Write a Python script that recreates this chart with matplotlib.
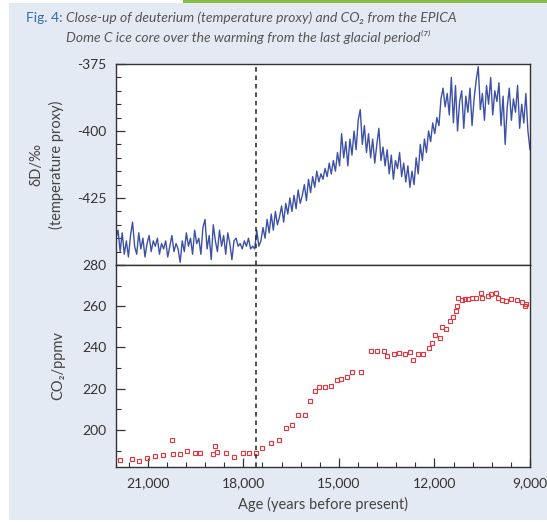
import matplotlib
matplotlib.use('Agg')
import matplotlib.pyplot as plt
from matplotlib.patches import Rectangle
from matplotlib.ticker import MultipleLocator, FuncFormatter
import numpy as np

plt.rcParams['font.family'] = ['Lato', 'DejaVu Sans']
plt.rcParams['axes.unicode_minus'] = False

# deuterium record, one value every 65 years from 22,000 to 9,000 yr BP
dd_age = np.linspace(22000, 9000, 201)
dd_val = [
    -440, -437, -445, -438, -446, -441, -447, -439, -434, -443,
    -446, -438, -444, -440, -447, -442, -439, -445, -441, -443,
    -440, -446, -442, -444, -441, -447, -443, -439, -445, -442,
    -444, -449, -441, -445, -438, -443, -440, -446, -437, -442,
    -440, -446, -436, -433, -444, -439, -448, -435, -441, -445,
    -437, -443, -439, -446, -438, -442, -448, -441, -440, -443,
    -442, -444, -441, -443, -440, -444, -443, -444, -437, -443,
    -441, -436, -440, -433, -438, -431, -437, -430, -435, -432,
    -428, -434, -427, -431, -425, -430, -424, -429, -422, -427,
    -424, -420, -426, -418, -423, -417, -421, -415, -419, -416,
    -418, -414, -417, -412, -416, -411, -415, -408, -413, -401,
    -410, -404, -413, -403, -409, -400, -407, -396, -392, -405,
    -398, -408, -401, -410, -403, -412, -405, -399, -411, -406,
    -413, -407, -416, -409, -418, -411, -414, -408, -417, -412,
    -419, -413, -421, -415, -420, -410, -416, -405, -411, -403,
    -408, -400, -404, -397, -401, -395, -398, -388, -384, -391,
    -386, -394, -380, -397, -383, -400, -389, -385, -399, -387,
    -393, -384, -398, -388, -381, -376, -392, -386, -396, -383,
    -390, -380, -394, -385, -389, -382, -398, -387, -405, -391,
    -384, -396, -388, -393, -383, -399, -390, -397, -386, -400, -407,
]

# CO2 measurements
co2_age = [21875, 21510, 21270, 21040, 20780, 20520, 20230, 20210, 20000, 19760,
           19530, 19350, 18940, 18880, 18830, 18560, 18300, 18000, 17810, 17600,
           17400, 17130, 16875, 16670, 16480, 16280, 16070, 15920, 15750, 15625,
           15440, 15260, 15050, 14920, 14740, 14580, 14320, 13980, 13800, 13590,
           13490, 13280, 13100, 12940, 12760, 12660, 12520, 12370, 12160, 12085,
           11980, 11820, 11750, 11650, 11510, 11430, 11330, 11300, 11270, 11150,
           11040, 10940, 10830, 10710, 10540, 10500, 10330, 10210, 10080, 10000,
           9875, 9740, 9585, 9400, 9250, 9145, 9115]
co2_val = [185.5, 186, 185, 186.6, 187.1, 188, 195, 188.4, 188.4, 190,
           189, 189, 188.4, 192.2, 189.5, 188.7, 187, 189, 188.7, 188.7,
           191, 193.8, 195, 200.7, 202.6, 207.4, 207.4, 213.8, 219.1, 220.7,
           221, 221.5, 224, 224.7, 225.8, 227.9, 227.9, 238.3, 238.3, 238.3,
           235.9, 237, 237.2, 237, 237.8, 233.8, 237, 237, 239.6, 242.3,
           246, 244.4, 249.8, 249, 252.7, 254.6, 257.8, 259.9, 263.8, 263.1,
           263.5, 263.5, 263.8, 264.2, 266.2, 264.2, 265.1, 265.8, 266.2, 264.2,
           263.1, 262.6, 263.5, 263.1, 261.9, 259.9, 261]

warming_start = 17600

fig = plt.figure(figsize=(5.47, 5.22), dpi=100, facecolor='white')
fig.patches.append(Rectangle((9 / 547, 2 / 522), 538 / 547, 517 / 522,
                             transform=fig.transFigure, facecolor='#e4eaf3',
                             edgecolor='none', zorder=-10))
fig.patches.append(Rectangle((183 / 547, 519 / 522), 364 / 547, 3 / 522,
                             transform=fig.transFigure, facecolor='#86bd44',
                             edgecolor='none', zorder=-9))

# title
fig.text(26 / 547, 1 - 18 / 522, 'Fig. 4:', color='#2f6fae', fontsize=10,
         va='center', ha='left')
fig.text(66 / 547, 1 - 18 / 522,
         'Close-up of deuterium (temperature proxy) and CO\u2082 from the EPICA',
         color='#555555', fontsize=10, style='italic', va='center', ha='left')
fig.text(66 / 547, 1 - 37 / 522,
         'Dome C ice core over the warming from the last glacial period\u207d\u2077\u207e',
         color='#555555', fontsize=10, style='italic', va='center', ha='left')

ax1 = fig.add_axes([116 / 547, 1 - 265 / 522, 414 / 547, 201 / 522])
ax2 = fig.add_axes([116 / 547, 1 - 467 / 522, 414 / 547, 202 / 522], sharex=ax1)

ax1.plot(dd_age, dd_val, color='#3d51a6', lw=1.0)
ax2.plot(co2_age, co2_val, 's', mfc='none', mec='#e8333c', ms=3.3, mew=0.8)

for ax in (ax1, ax2):
    ax.axvline(warming_start, color='#222222', ls=(0, (3, 2.5)), lw=1.1)
    for s in ax.spines.values():
        s.set_color('#333333')
        s.set_linewidth(1.0)
    ax.tick_params(axis='both', which='major', direction='in', length=6.5,
                   width=0.9, color='#333333', labelsize=10, labelcolor='#333333', pad=7)
    ax.tick_params(axis='both', which='minor', direction='in', length=3.5,
                   width=0.8, color='#333333')
    ax.tick_params(right=False, top=False)

ax1.set_xlim(22000, 9000)
ax1.set_ylim(-450, -375)
ax1.yaxis.set_minor_locator(MultipleLocator(5))
ax1.set_yticks([-375, -400, -425])
ax1.tick_params(axis='x', which='both', bottom=False, labelbottom=False)
ax1.set_ylabel('\u03b4D/\u2030\n(temperature proxy)', fontsize=10.5,
               color='#444444', labelpad=9, linespacing=1.5)

ax2.set_ylim(182, 280)
ax2.yaxis.set_major_locator(MultipleLocator(20))
ax2.yaxis.set_minor_locator(MultipleLocator(10))
ax2.xaxis.set_major_locator(MultipleLocator(3000))
ax2.xaxis.set_minor_locator(MultipleLocator(600))
ax2.xaxis.set_major_formatter(FuncFormatter(lambda v, p: '{:,.0f}'.format(v)))
ax2.set_ylabel('CO\u2082/ppmv', fontsize=10.5, color='#444444', labelpad=12)
ax2.set_xlabel('Age (years before present)', fontsize=10.5, color='#444444', labelpad=6)

fig.savefig('out.png', dpi=100)
